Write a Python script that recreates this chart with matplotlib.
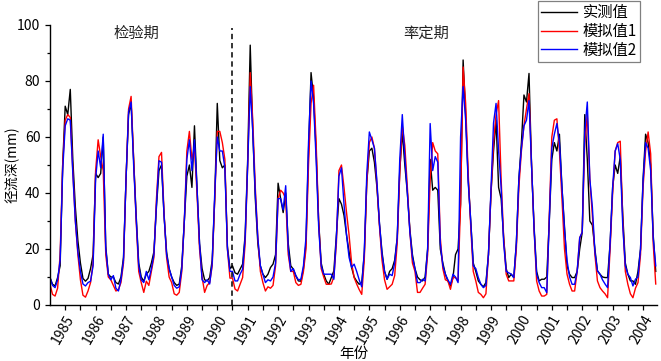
import numpy as np
import matplotlib
matplotlib.use('Agg')
import matplotlib.pyplot as plt
from matplotlib.ticker import FixedLocator, MultipleLocator

plt.rcParams['font.family'] = ['Noto Sans CJK SC', 'DejaVu Sans']

# ── Data (monthly runoff depth, mm, Jan 1985 .. Dec 2004) ─────────────────────
years = list(range(1985, 2005))

observed = [
    9.8, 7.4, 6.8, 9.8, 14, 50, 71, 68, 77, 52, 35, 23,        # 1985
    15, 9.5, 8.5, 9.5, 13, 18, 47, 45.5, 47, 60, 21, 11,       # 1986
    10, 10, 8, 7.5, 10, 17, 45, 68, 72, 52, 32, 15,            # 1987
    10, 8.5, 11, 12, 15, 19, 35, 48, 50, 32, 19, 13,           # 1988
    10, 8, 7, 7.5, 14, 30, 46, 50, 42, 64, 42, 22,             # 1989
    13, 9, 8.6, 9.8, 16, 38, 72, 51.6, 49, 50, 21, 13,         # 1990
    14, 11.5, 11, 12.8, 14.6, 25, 52, 92.8, 62, 38, 22, 14,    # 1991
    11, 9.8, 11, 13.4, 14.6, 18, 43.5, 38, 33, 40, 22, 14,     # 1992
    12.8, 10.4, 8.6, 8.5, 13, 22, 55, 83, 74, 55, 30, 15,      # 1993
    11, 8.6, 7.4, 9.8, 12.2, 25, 38, 36, 32, 25, 19, 13.4,     # 1994
    10, 8.5, 7.4, 8, 18, 44, 55, 56, 51, 42, 29, 19,           # 1995
    12, 9.2, 12, 13, 16, 24, 48, 62, 50, 40, 27, 18,           # 1996
    13, 10, 9, 8.6, 10, 20, 52, 41, 42, 41, 20, 15,            # 1997
    11, 8.6, 6.8, 9.8, 18, 20, 36, 87.5, 68, 45, 30, 15,       # 1998
    12, 8.6, 7.4, 6.5, 8, 18, 40, 55, 66, 42, 38, 24,          # 1999
    13, 9.8, 11, 9.8, 22, 45, 58, 75, 72.5, 82.7, 50, 28,      # 2000
    12, 8.6, 9.2, 9.2, 10, 30, 52, 58, 55, 61, 42, 28,         # 2001
    14, 11, 9.8, 9.8, 12, 20, 26, 68, 52, 30, 28.5, 20,        # 2002
    12.2, 11, 10, 9.8, 9.8, 22, 42, 50, 47, 53, 32, 15,        # 2003
    11, 8.6, 8.6, 7.4, 12, 20, 45, 61, 58, 50, 25, 12,         # 2004
]

simulated1 = [
    7.4, 3.8, 3.2, 6, 18, 50, 66, 68, 67, 48, 30, 18,          # 1985
    9, 3.5, 2.8, 5, 8, 15, 48, 59, 53, 48, 18, 10,             # 1986
    9, 7, 5, 5.5, 8, 15, 45, 70, 74.5, 52, 30, 12,             # 1987
    8, 4.5, 8.5, 7, 12, 17, 38, 53, 54.5, 33, 17, 10,          # 1988
    8, 4, 3.5, 4.5, 12, 30, 55, 62, 52, 56, 40, 20,            # 1989
    10, 4.5, 7, 8, 14, 38, 62, 62, 58, 52, 20, 9.6,            # 1990
    9.6, 5.7, 5, 7.4, 9.8, 22, 50, 83, 66, 42, 24, 12,         # 1991
    8, 5, 6.5, 6, 7, 14, 38, 41, 40, 38, 18, 12,               # 1992
    12, 8, 7, 7.4, 12, 20, 50, 72, 78.5, 58, 30, 13,           # 1993
    10, 7.4, 7.4, 7.5, 10, 22, 48, 50, 42, 33, 25, 15,         # 1994
    9.8, 7.5, 5.5, 3.8, 16, 44, 58, 60, 56, 43, 28, 16,        # 1995
    9, 5.6, 6.5, 7.4, 10.5, 22, 47, 64, 57, 42, 26, 15,        # 1996
    12, 4.5, 4.5, 6, 7.4, 18, 45, 58, 55, 54, 24, 13,          # 1997
    9, 8.6, 5.6, 9.8, 9.8, 8.6, 36, 85, 72, 47, 28, 12,        # 1998
    8.6, 4.5, 3.8, 2.6, 4, 18, 40, 58, 68, 73, 45, 24,         # 1999
    11, 8.6, 8.6, 8.6, 20, 42, 55, 64, 70, 75.5, 50, 27,       # 2000
    8.6, 5, 3.2, 3.2, 3.8, 32, 60, 66, 66.5, 55, 38, 20,       # 2001
    11, 7.4, 5, 5, 12, 24, 26, 58, 68, 45, 32, 18,             # 2002
    8.6, 6.2, 5, 4, 2.6, 20, 40, 55, 58, 58.5, 30, 12,         # 2003
    7.4, 4, 2.6, 6, 8, 18, 42, 55, 61.8, 54, 22, 7.5,          # 2004
]

simulated2 = [
    9.8, 7, 6.2, 9, 16, 48, 64, 66.5, 66, 47, 30, 19,          # 1985
    12, 7.5, 6.8, 8, 8.5, 14, 45, 55, 49, 61, 20, 11,          # 1986
    9, 10.5, 6, 5, 9, 16, 45, 69, 72.5, 50, 31, 14,            # 1987
    9, 8, 12, 9, 13, 18, 36, 51.5, 51, 32, 18, 13,             # 1988
    10, 7, 6, 6.5, 13, 30, 52, 59, 48, 59, 42, 22,             # 1989
    9, 8, 9, 7.5, 15, 40, 60, 55, 55, 49, 20, 12,              # 1990
    12, 8.6, 8.6, 11, 12.8, 24, 50, 78, 62, 40, 24, 14,        # 1991
    11, 8, 9, 8.6, 10, 15, 38, 38, 34, 42.6, 20, 12,           # 1992
    13, 10.5, 9, 9.2, 14, 24, 58, 80, 72, 52, 28, 14,          # 1993
    11, 11, 11, 11, 9.2, 24, 46, 49, 36, 25, 17, 13.4,         # 1994
    14.6, 12, 9, 6.5, 19, 47, 61.8, 59, 56, 44, 29, 18,        # 1995
    12, 9.2, 11, 10.5, 15, 24, 52, 68, 53, 40, 26, 17,         # 1996
    13, 8, 8, 9.2, 8.6, 20, 64.8, 48, 53, 51, 22, 14,          # 1997
    11, 9, 7.4, 11, 10, 8, 60, 78, 66, 44, 30, 14,             # 1998
    13, 9.8, 7.4, 6.2, 7, 18, 42, 65, 72, 55, 42, 22,          # 1999
    12, 11.5, 11, 9.8, 22, 45, 56, 64, 66, 73, 50, 27,         # 2000
    11, 8, 6.2, 6.2, 4.4, 30, 56, 61, 64.8, 58, 42, 27,        # 2001
    16, 10, 7.4, 7.4, 12, 24, 26, 62, 72.5, 45, 35, 19,        # 2002
    12.2, 11, 9, 7.5, 6.2, 22, 42, 55, 57.6, 52, 28, 14,       # 2003
    11, 9.8, 6.8, 9.2, 10, 20, 44, 58, 56, 48, 24, 14,         # 2004
]

series_labels = ['实测值', '模拟值1', '模拟值2']
series_colors = ['black', '#ff0000', '#0000ff']
split_month = 72          # verification | calibration boundary
period_labels = ['检验期', '率定期']

# ── Figure ────────────────────────────────────────────────────────────────────
fig = plt.figure(figsize=(6.61, 3.61), dpi=100)
ax = fig.add_axes([50 / 661, 56 / 361, 607 / 661, 280 / 361])

months = np.arange(len(observed))
for values, label, color in zip([observed, simulated1, simulated2],
                                series_labels, series_colors):
    ax.plot(months, values, '-', color=color, lw=1.0, label=label)

ax.axvline(split_month, ymin=0, ymax=0.99, color='black', lw=1.1,
           linestyle=(0, (3.5, 2.5)))

ax.text(34, 97, period_labels[0], ha='center', va='center', fontsize=11, color='#222222')
ax.text(148.5, 97, period_labels[1], ha='center', va='center', fontsize=11, color='#222222')

ax.set_xlim(0, 239.5)
ax.set_ylim(0, 100)

ax.xaxis.set_major_locator(FixedLocator([12 * i + 6 for i in range(len(years))]))
ax.xaxis.set_minor_locator(FixedLocator([12 * i for i in range(1, len(years))]))
ax.set_xticklabels([str(y) for y in years], rotation=60, ha='right',
                   rotation_mode='anchor', fontsize=10)
ax.yaxis.set_major_locator(MultipleLocator(20))
ax.yaxis.set_minor_locator(MultipleLocator(10))
ax.tick_params(axis='y', labelsize=10)

ax.tick_params(which='both', direction='out', width=0.9, color='black')
ax.tick_params(axis='x', which='both', length=3.5, pad=2)
ax.tick_params(axis='y', which='major', length=3.5)
ax.tick_params(axis='y', which='minor', length=2.5)

for side in ('top', 'right'):
    ax.spines[side].set_visible(False)
for side in ('left', 'bottom'):
    ax.spines[side].set_linewidth(1.0)

ax.set_xlabel('年份', fontsize=10.5, labelpad=0)
ax.set_ylabel('径流深(mm)', fontsize=10, va='center')
ax.yaxis.set_label_coords(-38 / 607, 0.5)

leg = ax.legend(loc='upper right', bbox_to_anchor=(640 / 661, 1 - 1 / 361),
                bbox_transform=fig.transFigure, borderaxespad=0,
                fancybox=False, framealpha=1, edgecolor='#808080',
                fontsize=11, handlelength=2.3, handletextpad=0.4,
                labelspacing=0.12, borderpad=0.2)
leg.get_frame().set_linewidth(0.9)

fig.savefig('out.png', dpi=100)
